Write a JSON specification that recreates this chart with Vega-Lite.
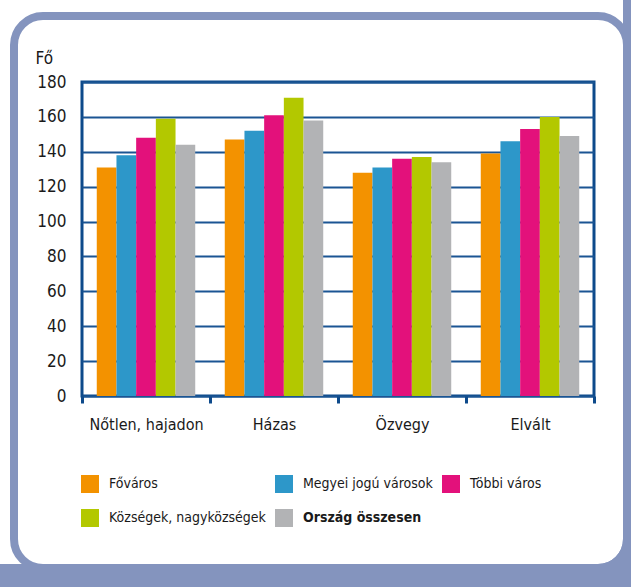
{
  "$schema": "https://vega.github.io/schema/vega-lite/v6.json",
  "width": 512,
  "height": 314,
  "autosize": {"type": "none"},
  "padding": {"left": 82, "top": 82, "right": 37, "bottom": 191},
  "background": "white",
  "config": {
    "font": "DejaVu Sans Condensed, Roboto",
    "view": {"stroke": "#0d4a8b", "strokeWidth": 3, "fill": "white"},
    "axis": {"labelColor": "#1a1a1a", "titleColor": "#1a1a1a", "labelFont": "DejaVu Sans Condensed, Roboto", "titleFont": "DejaVu Sans Condensed, Roboto"},
    "legend": {"labelColor": "#1a1a1a", "labelFont": "DejaVu Sans Condensed, Roboto"}
  },
  "data": {
    "values": [
      {"allapot": "Nőtlen, hajadon", "telepules": "Főváros", "fo": 131},
      {"allapot": "Nőtlen, hajadon", "telepules": "Megyei jogú városok", "fo": 138},
      {"allapot": "Nőtlen, hajadon", "telepules": "Többi város", "fo": 148},
      {"allapot": "Nőtlen, hajadon", "telepules": "Községek, nagyközségek", "fo": 159},
      {"allapot": "Nőtlen, hajadon", "telepules": "Ország összesen", "fo": 144},
      {"allapot": "Házas", "telepules": "Főváros", "fo": 147},
      {"allapot": "Házas", "telepules": "Megyei jogú városok", "fo": 152},
      {"allapot": "Házas", "telepules": "Többi város", "fo": 161},
      {"allapot": "Házas", "telepules": "Községek, nagyközségek", "fo": 171},
      {"allapot": "Házas", "telepules": "Ország összesen", "fo": 158},
      {"allapot": "Özvegy", "telepules": "Főváros", "fo": 128},
      {"allapot": "Özvegy", "telepules": "Megyei jogú városok", "fo": 131},
      {"allapot": "Özvegy", "telepules": "Többi város", "fo": 136},
      {"allapot": "Özvegy", "telepules": "Községek, nagyközségek", "fo": 137},
      {"allapot": "Özvegy", "telepules": "Ország összesen", "fo": 134},
      {"allapot": "Elvált", "telepules": "Főváros", "fo": 139},
      {"allapot": "Elvált", "telepules": "Megyei jogú városok", "fo": 146},
      {"allapot": "Elvált", "telepules": "Többi város", "fo": 153},
      {"allapot": "Elvált", "telepules": "Községek, nagyközségek", "fo": 160},
      {"allapot": "Elvált", "telepules": "Ország összesen", "fo": 149}
    ]
  },
  "layer": [
    {
      "mark": {"type": "bar"},
      "encoding": {
        "x": {
          "field": "allapot", "type": "nominal",
          "sort": ["Nőtlen, hajadon", "Házas", "Özvegy", "Elvált"],
          "scale": {"paddingInner": 0, "paddingOuter": 0},
          "axis": {"title": null, "labelAngle": 0, "tickBand": "extent", "ticks": true, "tickSize": 7, "tickWidth": 3, "tickColor": "#0d4a8b", "domain": false, "grid": false, "labelPadding": 13, "labelFontSize": 16}
        },
        "xOffset": {
          "field": "telepules", "type": "nominal",
          "sort": ["Főváros", "Megyei jogú városok", "Többi város", "Községek, nagyközségek", "Ország összesen"],
          "scale": {"paddingInner": 0, "paddingOuter": 0.75}
        },
        "y": {
          "field": "fo", "type": "quantitative",
          "scale": {"domain": [0, 180], "nice": false},
          "axis": {"values": [0, 20, 40, 60, 80, 100, 120, 140, 160, 180], "title": "Fő", "titleAngle": 0, "titleAlign": "left", "titleBaseline": "alphabetic", "titleX": -47, "titleY": -19, "titleFontSize": 17, "titleFontWeight": "normal", "grid": true, "gridColor": "#1b5593", "gridWidth": 2, "ticks": false, "tickSize": 0, "domain": false, "labelPadding": 16, "labelFontSize": 17}
        },
        "color": {
          "field": "telepules", "type": "nominal",
          "scale": {"domain": ["Főváros", "Megyei jogú városok", "Többi város", "Községek, nagyközségek", "Ország összesen"], "range": ["#f39200", "#2d97c9", "#e3117b", "#b3c800", "#b2b3b5"]},
          "legend": {
            "orient": "none", "legendX": -1, "legendY": 393, "direction": "horizontal", "columns": 3, "columnPadding": 9, "rowPadding": 16,
            "title": null, "padding": 0, "labelFontSize": 14, "labelOffset": 10, "labelLimit": 400,
            "symbolType": "square", "symbolSize": 324, "symbolStrokeWidth": 0,
            "encode": {"labels": {"update": {"fontWeight": {"signal": "datum.label === 'Ország összesen' ? 'bold' : 'normal'"}}}}
          }
        }
      }
    },
    {
      "mark": {"type": "point", "opacity": 0, "size": 0},
      "encoding": {
        "fill": {
          "field": "fo", "type": "quantitative",
          "legend": {"orient": "none", "legendX": -68, "legendY": -66, "direction": "vertical", "gradientLength": 552, "gradientThickness": 613, "gradientOpacity": 0, "gradientStrokeWidth": 0, "labelExpr": "''", "labelOpacity": 0, "labelOffset": 0, "title": null, "padding": 0, "strokeColor": "#8494be", "cornerRadius": 29,
            "encode": {"legend": {"update": {"strokeWidth": {"value": 8}, "stroke": {"value": "#8494be"}}}}}
        }
      }
    },
    {
      "mark": {"type": "point", "opacity": 0, "size": 0},
      "encoding": {
        "stroke": {
          "field": "fo", "type": "quantitative",
          "legend": {"orient": "none", "legendX": -182, "legendY": -182, "direction": "vertical", "gradientLength": 686, "gradientThickness": 745, "gradientOpacity": 0, "gradientStrokeWidth": 0, "labelExpr": "''", "labelOpacity": 0, "labelOffset": 0, "title": null, "padding": 0, "strokeColor": "#8494be", "cornerRadius": 47,
            "encode": {"legend": {"update": {"strokeWidth": {"value": 44}, "stroke": {"value": "#8494be"}}}}}
        }
      }
    }
  ]
}
